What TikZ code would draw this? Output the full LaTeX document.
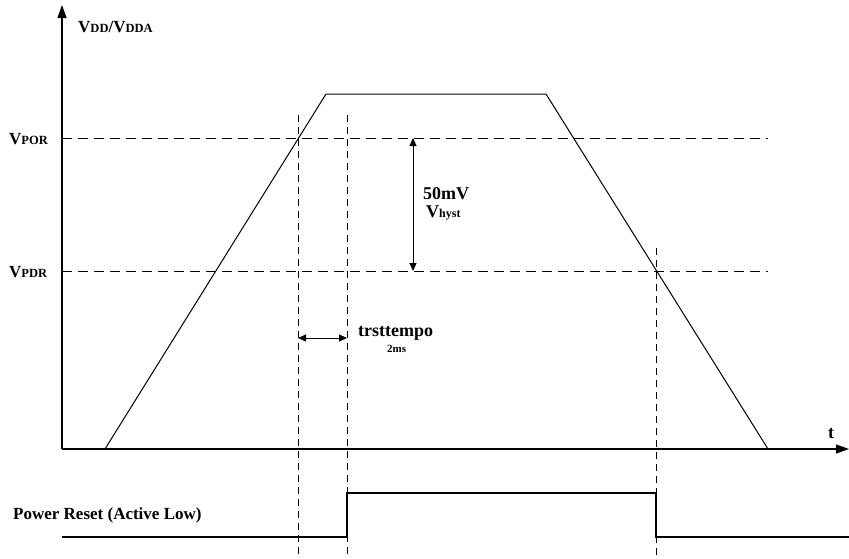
\documentclass[tikz,border=0pt]{standalone}
\usepackage{fontspec}
\setmainfont{Liberation Serif}
\usetikzlibrary{arrows.meta}
\newcommand\bigV{\fontsize{17}{20}\selectfont}
\newcommand\smallC{\fontsize{12.5}{14}\selectfont}
\newcommand\VS[1]{{\bigV V}{\smallC #1}}
\begin{document}
\begin{tikzpicture}[x=1pt,y=-1pt,
  axis/.style={line width=1.2pt,-{Triangle[length=13pt,width=9pt]}},
  hdash/.style={line width=0.9pt,dash pattern=on 10pt off 6pt},
  vdash/.style={line width=0.9pt,dash pattern=on 7pt off 5pt},
  wave/.style={line width=1pt,line join=miter},
  dim/.style={line width=1pt,{Triangle[length=8pt,width=7pt]}-{Triangle[length=8pt,width=7pt]}},
  sig/.style={line width=1.2pt},
  lbl/.style={inner sep=0pt,anchor=base west,font=\bfseries}]
\useasboundingbox (0,0) rectangle (849,558);
% coordinates
\coordinate (O) at (62,449);
\coordinate (ytip) at (62,5);
\coordinate (xtip) at (849,449);
\coordinate (porL) at (62,138);
\coordinate (porR) at (768,138);
\coordinate (pdrL) at (62,271);
\coordinate (pdrR) at (768,271);
\coordinate (w0) at (105,449);
\coordinate (w1) at (326,94);
\coordinate (w2) at (546,94);
\coordinate (w3) at (768,449);
\coordinate (d1t) at (298,115);
\coordinate (d1b) at (298,557);
\coordinate (d2t) at (347,115);
\coordinate (d2b) at (347,557);
\coordinate (d3t) at (656,248);
\coordinate (d3b) at (656,557);
\coordinate (hA) at (413,138);
\coordinate (hB) at (413,271);
\coordinate (tA) at (298,338);
\coordinate (tB) at (347,338);
\coordinate (s0) at (62,537);
\coordinate (s1) at (347,537);
\coordinate (s2) at (347,493);
\coordinate (s3) at (656,493);
\coordinate (s4) at (656,537);
\coordinate (s5) at (849,537);
% axes
\draw[axis] (O) -- (ytip);
\draw[axis] (O) -- (xtip);
% thresholds
\draw[hdash] (porL) -- (porR);
\draw[hdash] (pdrL) -- (pdrR);
% supply waveform
\draw[wave] (w0) -- (w1) -- (w2) -- (w3);
% vertical markers
\draw[vdash] (d1t) -- (d1b);
\draw[vdash] (d2t) -- (d2b);
\draw[vdash] (d3t) -- (d3b);
% dimension arrows
\draw[dim] (hA) -- (hB);
\draw[dim] (tA) -- (tB);
% reset signal
\draw[sig] (s0) -- (s1) -- (s2) -- (s3) -- (s4) -- (s5);
% labels
\node[lbl] (lvdd) at (78,32) {\VS{DD}{\bigV/}\VS{DDA}};
\node[lbl] (lpor) at (9,144) {\VS{POR}};
\node[lbl] (lpdr) at (9,277) {\VS{PDR}};
\node[lbl] (l50) at (423,199) {\fontsize{18}{20}\selectfont 50mV};
\node[lbl] (lhy) at (426,217) {{\fontsize{18}{20}\selectfont V}{\fontsize{12}{14}\selectfont hyst}};
\node[lbl] (ltr) at (358,336) {\fontsize{18}{20}\selectfont trsttempo};
\node[lbl] (l2ms) at (387,352) {\fontsize{11}{13}\selectfont 2ms};
\node[lbl] (lt) at (828,438) {\fontsize{18}{20}\selectfont t};
\node[lbl] (lrst) at (13,519) {\fontsize{17}{20}\selectfont Power Reset (Active Low)};
\end{tikzpicture}
\end{document}
